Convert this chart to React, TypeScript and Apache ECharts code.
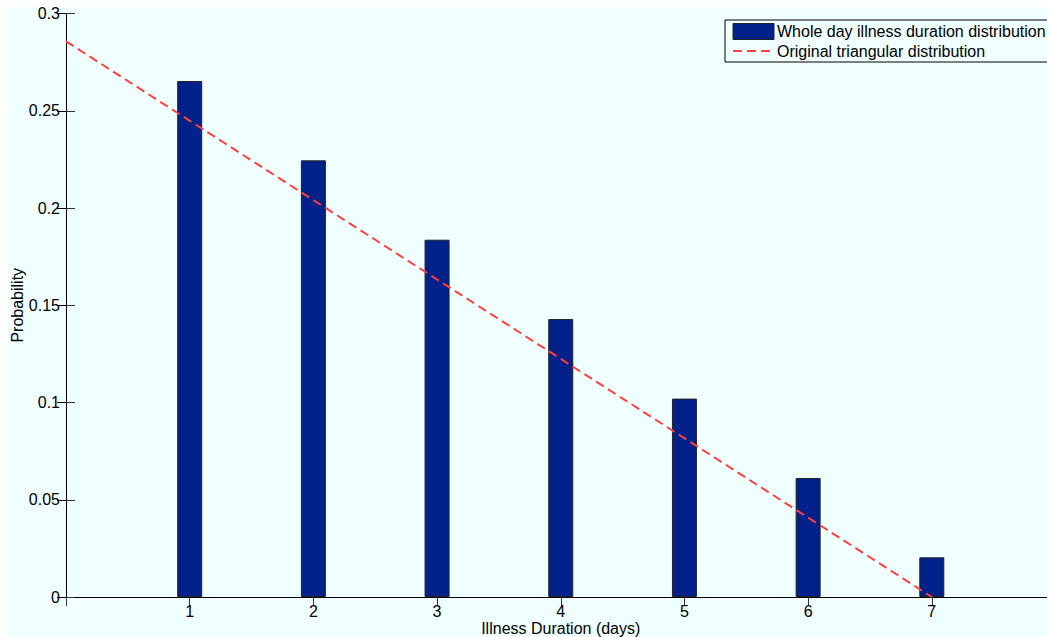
import React, { useEffect, useRef } from "react";
import * as echarts from "echarts";

const days = [1, 2, 3, 4, 5, 6, 7];
const wholeDayProb = [0.2653, 0.2245, 0.1837, 0.1429, 0.102, 0.0612, 0.0204];
const triangleX = [0, 7];
const triangleY = [0.2857, 0];
const yTicks = [0, 0.05, 0.1, 0.15, 0.2, 0.25, 0.3];

const FONT = "'Liberation Sans', Arial, Helvetica, sans-serif";
const BG = "#F0FFFF";

export default function App() {
  const ref = useRef<HTMLDivElement>(null);
  useEffect(() => {
    document.documentElement.style.overflow = "hidden";
    document.body.style.overflow = "hidden";
    document.body.style.margin = "0";
    const chart = echarts.init(ref.current!, undefined, { renderer: "svg" });
    const barData = days.map((d, i) => [d, wholeDayProb[i]]);
    const lineData = triangleX.map((x, i) => [x, triangleY[i]]);
    const axisText = { color: "#000", fontFamily: FONT, fontSize: 16 };
    chart.setOption({
      animation: false,
      backgroundColor: "transparent",
      textStyle: { fontFamily: FONT },
      grid: {
        left: 66,
        right: 4.5,
        top: 13.5,
        bottom: 40,
        containLabel: false,
        outerBoundsMode: "none",
      },
      legend: {
        orient: "vertical",
        left: 725,
        top: 20,
        backgroundColor: BG,
        borderColor: "#000",
        borderWidth: 1,
        borderRadius: 0,
        padding: [3, 2, 3, 7],
        itemGap: 3,
        itemWidth: 41,
        itemHeight: 16,
        textStyle: { color: "#000", fontFamily: FONT, fontSize: 16, padding: [0, 0, 0, -2] },
        data: [
          {
            name: "Whole day illness duration distribution",
            icon: "rect",
            itemStyle: { color: "#00208A", borderColor: "#222", borderWidth: 1 },
          },
          {
            name: "Original triangular distribution",
            itemStyle: { opacity: 0 },
            lineStyle: { color: "#FF4040", width: 2, type: [9, 5] },
          },
        ],
      },
      xAxis: [
        {
          type: "value",
          min: 0,
          max: 8,
          interval: 1,
          position: "bottom",
          name: "Illness Duration (days)",
          nameLocation: "middle",
          nameGap: 23,
          nameMoveOverlap: false,
          nameTextStyle: { ...axisText },
          axisLine: { lineStyle: { color: "#000", width: 1 } },
          axisTick: { inside: true, length: 9, lineStyle: { color: "#000" } },
          axisLabel: {
            ...axisText,
            margin: 6,
            formatter: (v: number) => (v >= 1 && v <= 7 ? String(v) : ""),
          },
          splitLine: { show: false },
        },
        {
          type: "value",
          min: 0,
          max: 8,
          interval: 1,
          position: "top",
          axisLine: { lineStyle: { color: "#000", width: 1 } },
          axisTick: { inside: true, length: 9, lineStyle: { color: "#333" } },
          axisLabel: { show: false },
          splitLine: { show: false },
        },
      ],
      yAxis: [
        {
          type: "value",
          min: yTicks[0],
          max: yTicks[yTicks.length - 1],
          interval: 0.05,
          name: "Probability",
          nameLocation: "middle",
          nameGap: 41,
          nameMoveOverlap: false,
          nameTextStyle: { ...axisText },
          axisLine: { show: true, lineStyle: { color: "#000", width: 1 } },
          axisTick: { show: true, inside: true, length: 9, lineStyle: { color: "#333" } },
          axisLabel: { ...axisText, margin: 6 },
          splitLine: { show: false },
        },
        {
          type: "value",
          min: yTicks[0],
          max: yTicks[yTicks.length - 1],
          interval: 0.05,
          position: "right",
          axisLine: { show: true, lineStyle: { color: "#000", width: 1 } },
          axisTick: { show: true, inside: true, length: 9 },
          axisLabel: { show: false },
          splitLine: { show: false },
        },
      ],
      series: [
        {
          name: "Whole day illness duration distribution",
          type: "bar",
          xAxisIndex: 0,
          yAxisIndex: 0,
          barWidth: 25,
          data: barData,
          itemStyle: { color: "#00208A", borderColor: "#222", borderWidth: 1 },
          z: 2,
        },
        {
          name: "Original triangular distribution",
          type: "line",
          xAxisIndex: 0,
          yAxisIndex: 0,
          data: lineData,
          symbol: "none",
          lineStyle: { color: "#FF4040", width: 2, type: [9, 5] },
          itemStyle: { color: "#FF4040" },
          z: 3,
        },
      ],
    });
    return () => chart.dispose();
  }, []);
  return (
    <div
      ref={ref}
      style={{
        width: 1060,
        height: 637,
        background: `linear-gradient(${BG}, ${BG}) 8px 7px / 100% 629px no-repeat, #ffffff`,
      }}
    />
  );
}
